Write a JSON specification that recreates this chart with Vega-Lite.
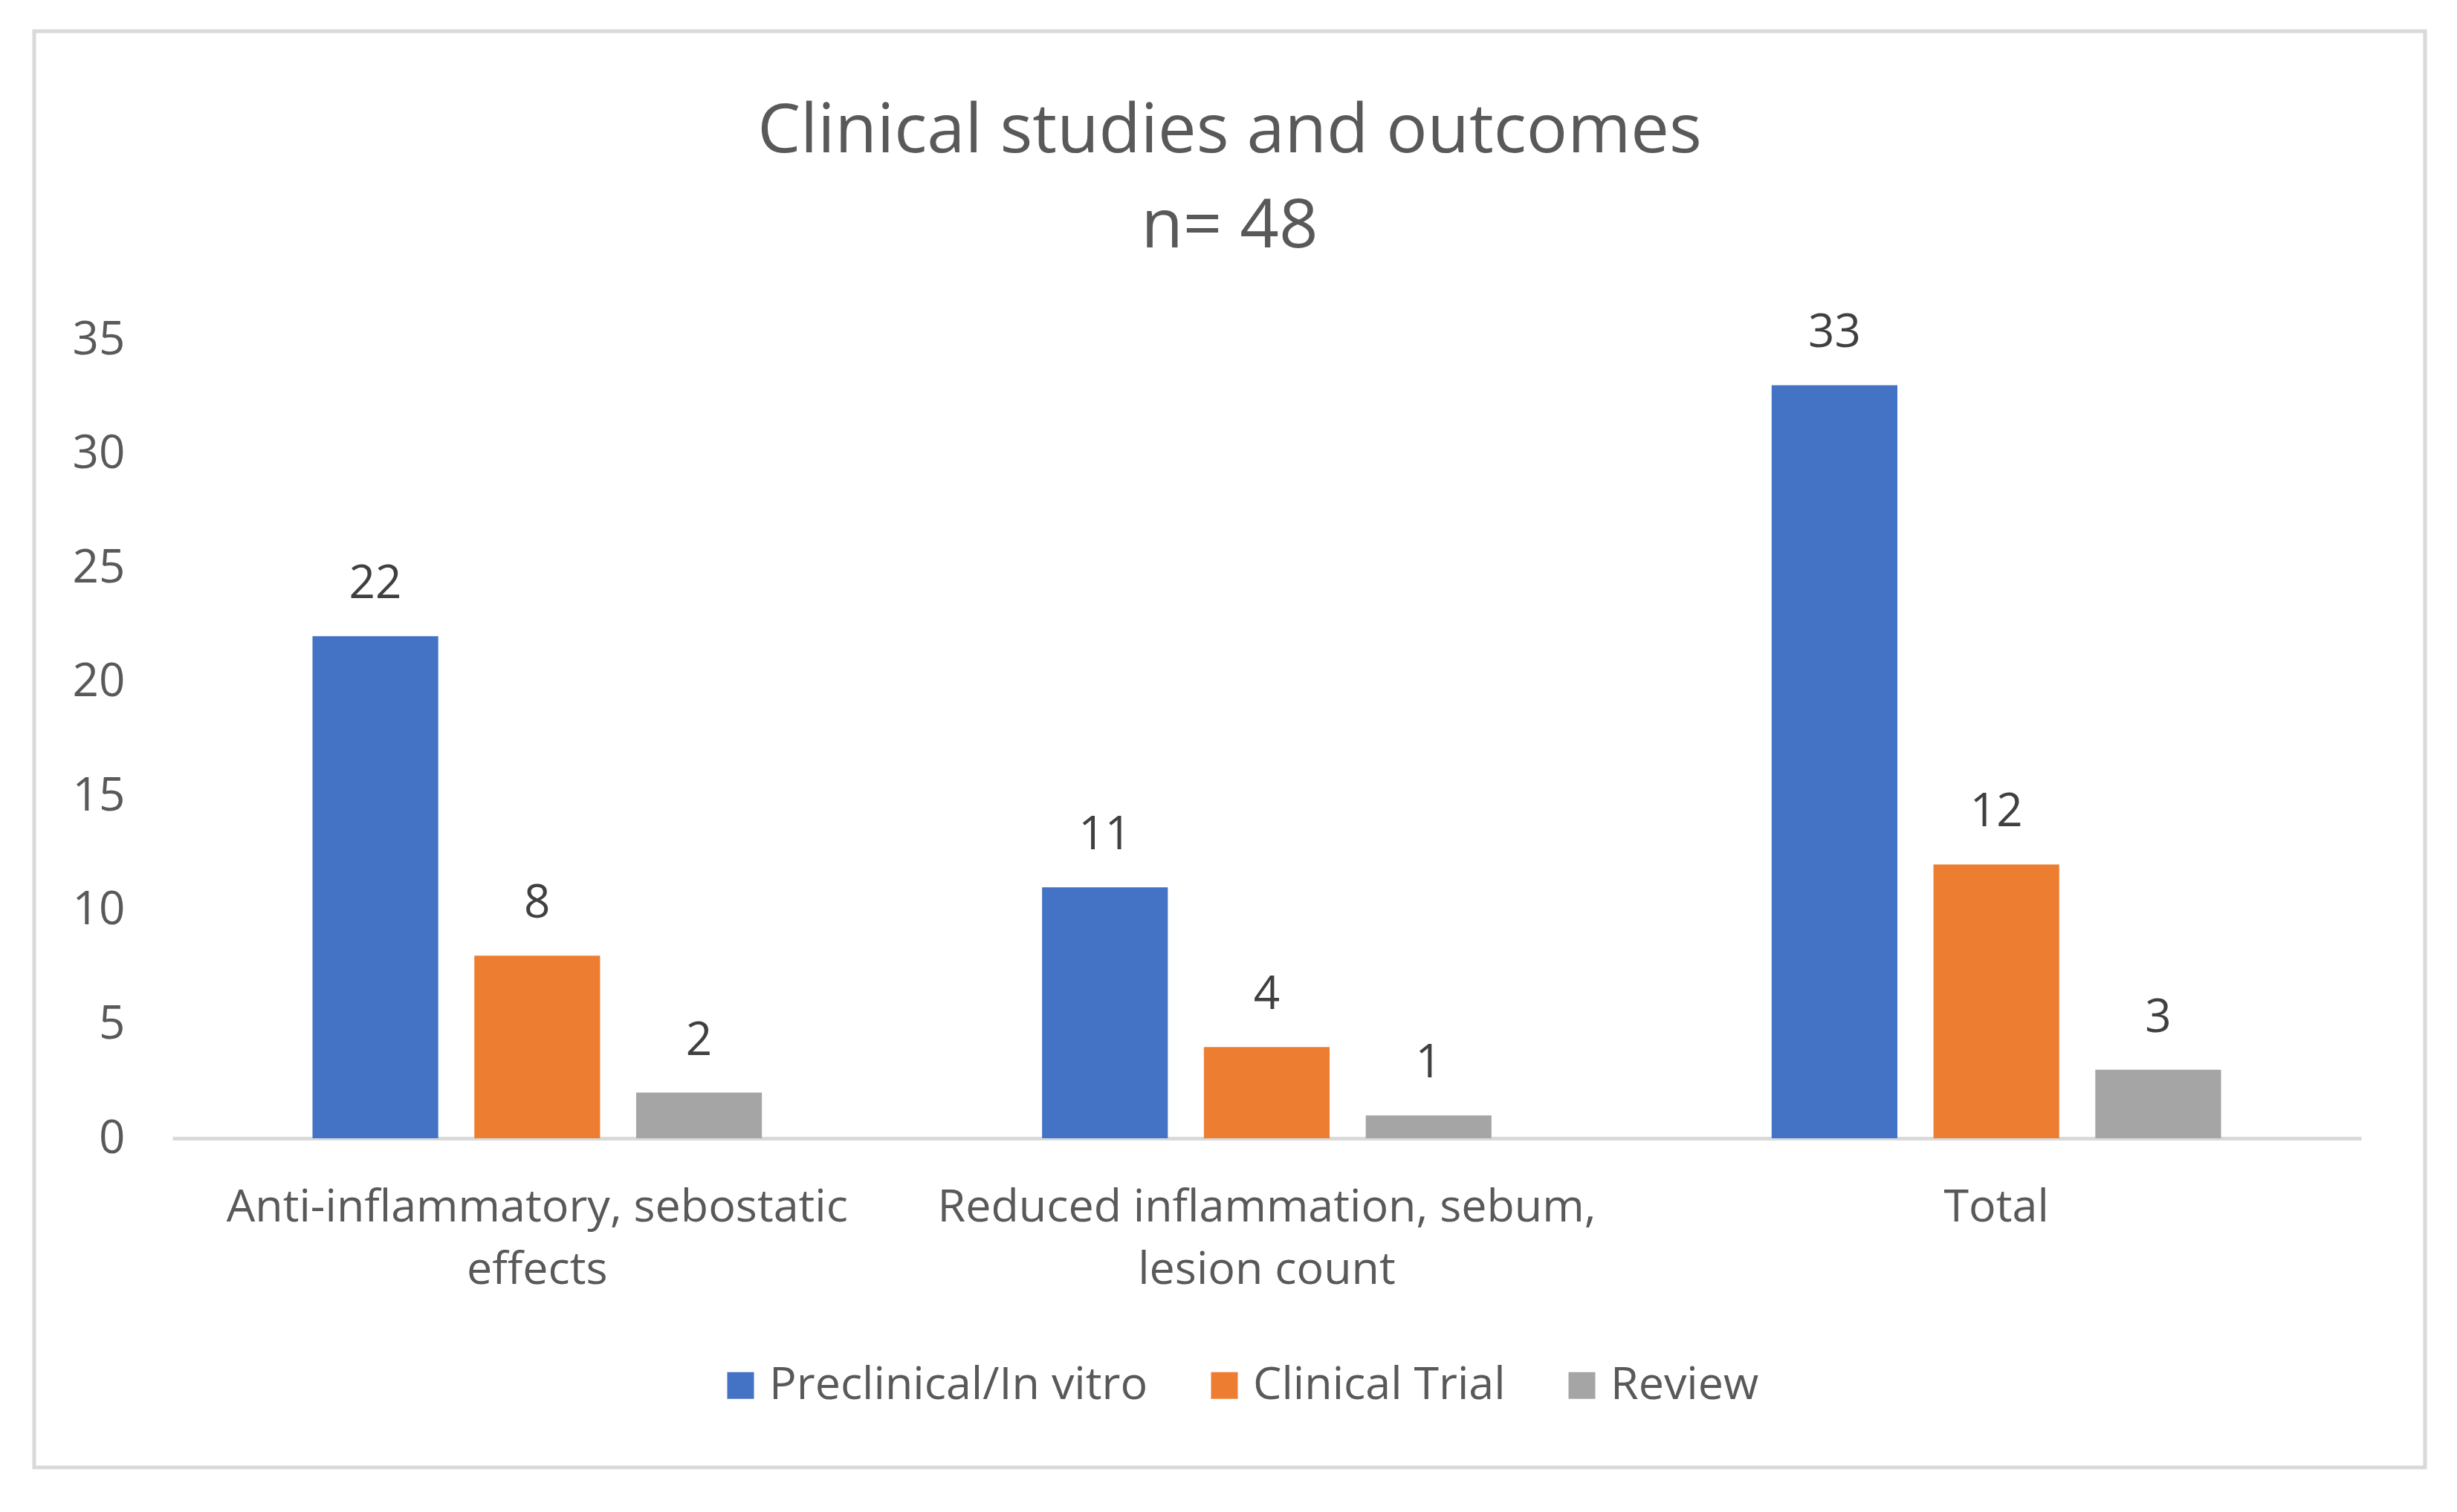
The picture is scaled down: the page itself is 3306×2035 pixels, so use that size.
{
  "$schema": "https://vega.github.io/schema/vega-lite/v6.json",
  "autosize": {"type": "none"},
  "width": 3217,
  "height": 1933,
  "padding": {"left": 46, "top": 42, "right": 43, "bottom": 60},
  "background": "white",
  "config": {
    "view": {"stroke": "#d9d9d9", "strokeWidth": 5},
    "font": "Open Sans"
  },
  "title": {
    "text": ["Clinical studies and outcomes", "n= 48"],
    "fontSize": 92,
    "lineHeight": 128,
    "color": "#595959",
    "font": "Open Sans",
    "fontWeight": "normal",
    "anchor": "middle",
    "frame": "group",
    "offset": -310
  },
  "data": {
    "values": [
      {"category": "Anti-inflammatory, sebostatic effects", "type": "Preclinical/In vitro", "count": 22},
      {"category": "Anti-inflammatory, sebostatic effects", "type": "Clinical Trial", "count": 8},
      {"category": "Anti-inflammatory, sebostatic effects", "type": "Review", "count": 2},
      {"category": "Reduced inflammation, sebum, lesion count", "type": "Preclinical/In vitro", "count": 11},
      {"category": "Reduced inflammation, sebum, lesion count", "type": "Clinical Trial", "count": 4},
      {"category": "Reduced inflammation, sebum, lesion count", "type": "Review", "count": 1},
      {"category": "Total", "type": "Preclinical/In vitro", "count": 33},
      {"category": "Total", "type": "Clinical Trial", "count": 12},
      {"category": "Total", "type": "Review", "count": 3}
    ]
  },
  "encoding": {
    "x": {
      "field": "category",
      "type": "nominal",
      "sort": null,
      "scale": {"range": [186, 3131], "paddingInner": 0.384, "paddingOuter": 0.192},
      "axis": {
        "title": null,
        "orient": "bottom",
        "offset": -443,
        "labelAngle": 0,
        "domainColor": "#d9d9d9",
        "domainWidth": 5,
        "ticks": false,
        "labelPadding": 63,
        "labelFontSize": 61,
        "labelLineHeight": 84,
        "labelColor": "#595959",
        "labelFont": "Open Sans",
        "labelBaseline": "top",
        "labelLimit": 1200,
        "labelExpr": "datum.label == 'Anti-inflammatory, sebostatic effects' ? ['Anti-inflammatory, sebostatic', 'effects'] : datum.label == 'Reduced inflammation, sebum, lesion count' ? ['Reduced inflammation, sebum,', 'lesion count'] : datum.label"
      }
    },
    "xOffset": {
      "field": "type",
      "type": "nominal",
      "sort": ["Preclinical/In vitro", "Clinical Trial", "Review"],
      "scale": {"paddingInner": 0.223, "paddingOuter": 0}
    },
    "y": {
      "field": "count",
      "type": "quantitative",
      "scale": {"domain": [0, 35], "range": [1490, 415], "nice": false},
      "axis": {
        "title": null,
        "orient": "left",
        "offset": -186,
        "domain": false,
        "ticks": false,
        "grid": false,
        "values": [0, 5, 10, 15, 20, 25, 30, 35],
        "labelPadding": 64,
        "labelFontSize": 62,
        "labelColor": "#595959",
        "labelFont": "Open Sans"
      }
    }
  },
  "layer": [
    {
      "mark": {"type": "bar"},
      "encoding": {
        "color": {
          "field": "type",
          "type": "nominal",
          "scale": {
            "domain": ["Preclinical/In vitro", "Clinical Trial", "Review"],
            "range": ["#4472C4", "#ED7D31", "#A5A5A5"]
          },
          "legend": {
            "title": null,
            "orient": "none",
            "direction": "horizontal",
            "legendX": 920,
            "legendY": 1792,
            "symbolType": "square",
            "symbolSize": 1296,
            "symbolStrokeWidth": 0,
            "labelFontSize": 61,
            "labelColor": "#595959",
            "labelFont": "Open Sans",
            "labelOffset": 8,
            "columnPadding": 72,
            "labelLimit": 1000,
            "padding": 0
          }
        }
      }
    },
    {
      "mark": {"type": "text", "dy": -70, "baseline": "middle", "fontSize": 62, "color": "#404040", "font": "Open Sans"},
      "encoding": {
        "text": {"field": "count", "type": "quantitative"}
      }
    }
  ]
}
